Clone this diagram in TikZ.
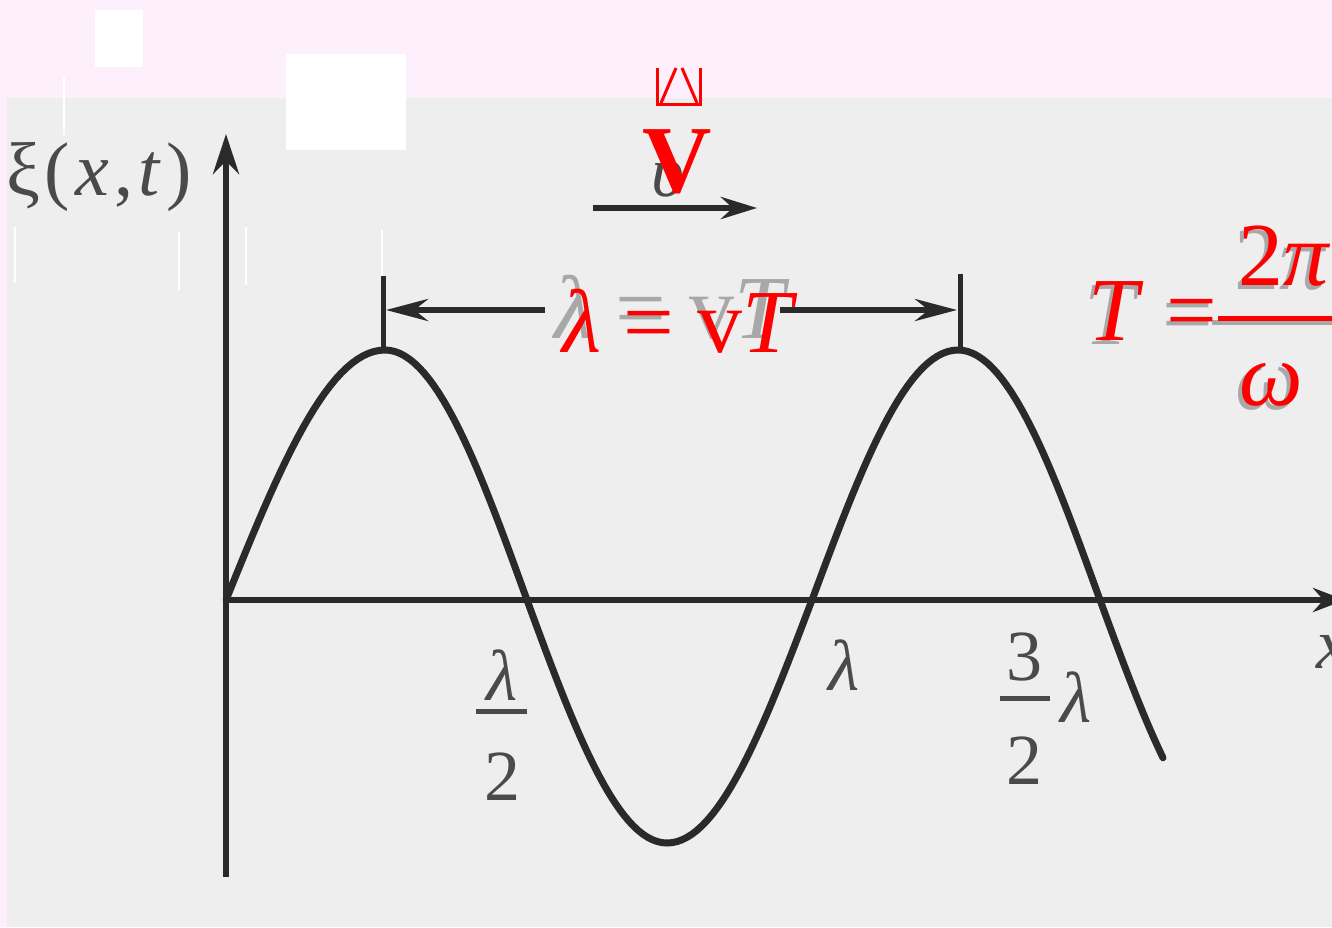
\documentclass[tikz,border=0pt]{standalone}
\usepackage{fontspec}
\setmainfont{Liberation Serif}
\usetikzlibrary{arrows.meta}
\definecolor{pinkbg}{HTML}{FDF0FC}
\definecolor{scanbg}{HTML}{EEEEEE}
\definecolor{ink}{HTML}{2A2A2A}
\definecolor{scantext}{HTML}{4A4A4A}
\definecolor{shadowtext}{HTML}{7A7A7A}
\definecolor{redtext}{HTML}{FF0000}
\tikzset{
  axisline/.style={draw=ink, line width=6pt},
  waveline/.style={draw=ink, line width=7pt, line join=round, line cap=round},
  scanlbl/.style={text=scantext, inner sep=0pt, font=\fontsize{72}{72}\selectfont},
  redlbl/.style={text=redtext, inner sep=0pt, font=\fontsize{90}{90}\selectfont},
  shadowlbl/.style={text=shadowtext, inner sep=0pt, font=\fontsize{90}{90}\selectfont},
  artifact/.style={draw=white, line width=1.5pt},
  bigtip/.style={-{Stealth[length=40pt,width=26pt]}},
}
\begin{document}
\begin{tikzpicture}[x=1pt,y=-1pt]
\useasboundingbox (0,0) rectangle (1332,927);
% backgrounds
\fill[pinkbg] (0,0) rectangle (1332,927);
\fill[scanbg] (7,98) rectangle (1332,927);
\fill[white] (95,10) rectangle (143,67);
\fill[white] (286,54) rectangle (406,150);
% artifacts
\draw[artifact] (64,77) -- (64,135);
\draw[artifact] (15,227) -- (15,283);
\draw[artifact] (179,232) -- (179,290);
\draw[artifact] (246,227) -- (246,285);
\draw[artifact] (382,230) -- (382,288);
% coordinates
\coordinate (O) at (226,600);
\coordinate (ybot) at (226,877);
\coordinate (ytop) at (226,134);
\coordinate (xend) at (1345,600);
% axes
\draw[axisline, bigtip] (ybot) -- (ytop);
\draw[axisline, -{Stealth[length=32pt,width=24pt]}] (O) -- (xend);
% wave
\draw[waveline] plot[domain=0:1,samples=30,variable=\t] ({226+159*\t},{600-250*sin(90*\t)})
  -- plot[domain=0:1,samples=30,variable=\t] ({385+142*\t},{600-250*cos(90*\t)})
  -- plot[domain=0:1,samples=30,variable=\t] ({527+140*\t},{600+243*sin(90*\t)})
  -- plot[domain=0:1,samples=30,variable=\t] ({667+145*\t},{600+243*cos(90*\t)})
  -- plot[domain=0:1,samples=30,variable=\t] ({812+146*\t},{600-250*sin(90*\t)})
  -- plot[domain=0:1,samples=30,variable=\t] ({958+142*\t},{600-250*cos(90*\t)})
  -- plot[domain=0:0.45,samples=20,variable=\t] ({1100+140*\t},{600+243*sin(90*\t)});
% velocity arrow
\coordinate (va) at (593,208);
\coordinate (vb) at (757,208);
\draw[axisline, -{Stealth[length=36pt,width=22pt]}] (va) -- (vb);
% wavelength marker
\coordinate (t1a) at (383,276);
\coordinate (t1b) at (383,347);
\coordinate (t2a) at (960,274);
\coordinate (t2b) at (960,347);
\draw[draw=ink, line width=5pt] (t1a) -- (t1b);
\draw[draw=ink, line width=5pt] (t2a) -- (t2b);
\coordinate (la) at (386,310);
\coordinate (lb) at (545,310);
\coordinate (lc) at (780,310);
\coordinate (ld) at (957,310);
\draw[axisline, {Stealth[length=42pt,width=22pt]}-] (la) -- (lb);
\draw[axisline, -{Stealth[length=42pt,width=22pt]}] (lc) -- (ld);
% scanned labels
\node[scanlbl, anchor=base west, font=\fontsize{76}{76}\selectfont] (xi) at (6,195) {ξ\kern4pt(\kern6pt\textit{x}\kern5pt,\kern5pt\textit{t}\kern6pt)};
\node[scanlbl, anchor=base] (h1) at (502,700) {\textit{λ}};
\draw[draw=scantext, line width=5pt] (476,711) -- (527,711);
\node[scanlbl, anchor=base] (h2) at (502,800) {2};
\node[scanlbl, anchor=base] (lam) at (844,690) {\textit{λ}};
\node[scanlbl, anchor=base] (t3) at (1024,680) {3};
\draw[draw=scantext, line width=5pt] (1000,698) -- (1050,698);
\node[scanlbl, anchor=base] (t4) at (1024,784) {2};
\node[scanlbl, anchor=base west] (t5) at (1060,722) {\textit{λ}};
\node[scanlbl, anchor=base west] (xl) at (1316,668) {\textit{x}};
% scanned shadows behind red text
\node[scanlbl, anchor=base] (vs) at (668,196) {\textit{υ}};
\node[shadowlbl, anchor=base, opacity=0.6] (lvs) at (672,338) {\textit{λ} = v\textit{T}};
\node[shadowlbl, anchor=base west, opacity=0.6] (Ts) at (1084,344) {\textit{T} =};
\node[shadowlbl, anchor=base west, opacity=0.6] (pis) at (1234,289) {2\textit{π}};
\node[shadowlbl, anchor=base west, opacity=0.6] (oms) at (1235,409) {\textit{ω}};
\draw[draw=shadowtext, line width=5pt, opacity=0.6] (1212,322) -- (1340,322);
% red overlays
\draw[draw=redtext, line width=3pt] (657,68) -- (657,104) -- (700,104) -- (700,68);
\draw[draw=redtext, line width=3pt] (661,103) -- (676,68);
\draw[draw=redtext, line width=3pt] (682,68) -- (697,103);
\node[redlbl, anchor=base, font=\fontsize{96}{96}\selectfont\bfseries] (V) at (677,192) {V};
\node[redlbl, anchor=base] (lv) at (680,352) {\textit{λ} = v\textit{T}};
\node[redlbl, anchor=base west] (T) at (1088,340) {\textit{T} =};
\node[redlbl, anchor=base west] (pi) at (1238,285) {2\textit{π}};
\node[redlbl, anchor=base west] (om) at (1239,405) {\textit{ω}};
\draw[draw=redtext, line width=5pt] (1218,318) -- (1340,318);
\end{tikzpicture}
\end{document}
